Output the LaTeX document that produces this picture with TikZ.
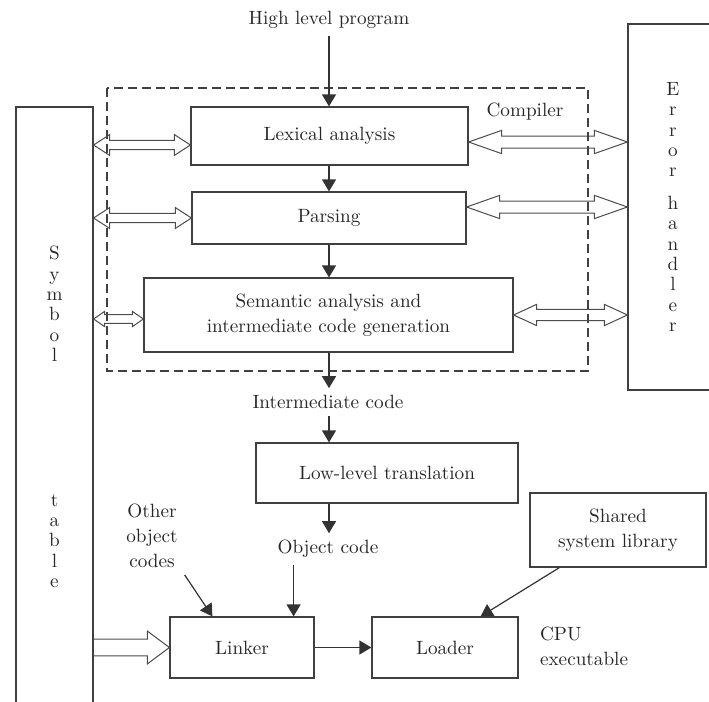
\documentclass[tikz,border=0pt]{standalone}
\usetikzlibrary{arrows.meta,calc}

% Grosse flèche creuse à deux pointes : x début, x fin, hauteur, demi-corps, demi-tête, longueur tête
\newcommand{\doublegrosse}[6]{%
  \draw[epaisse] let \p1=(#1), \p2=(#2), \p3=(#3) in
    (\x1,\y3) -- (\x1+#6,\y3+#5) -- (\x1+#6,\y3+#4) -- (\x2-#6,\y3+#4) -- (\x2-#6,\y3+#5)
    -- (\x2,\y3) -- (\x2-#6,\y3-#5) -- (\x2-#6,\y3-#4) -- (\x1+#6,\y3-#4) -- (\x1+#6,\y3-#5) -- cycle;}

% Grosse flèche creuse à une pointe : x début, arrivée, demi-corps, demi-tête, longueur tête
\newcommand{\simplegrosse}[5]{%
  \draw[epaisse] let \p1=(#1), \p2=(#2) in
    (\x1,\y2+#3) -- (\x2-#5,\y2+#3) -- (\x2-#5,\y2+#4) -- (\x2,\y2)
    -- (\x2-#5,\y2-#4) -- (\x2-#5,\y2-#3) -- (\x1,\y2-#3);}

\begin{document}
\begin{tikzpicture}[x=0.5pt, y=-0.5pt, font=\fontsize{9.6pt}{12.5pt}\selectfont, text=black!85]

  % Styles
  \tikzstyle{boite} = [draw=black!75, line width=0.6pt, inner sep=0pt, align=center]
  \tikzstyle{fleche} = [-{Triangle[length=6pt,width=7pt]}, draw=black!80, line width=0.6pt]
  \tikzstyle{epaisse} = [draw=black!70, line width=0.5pt, line join=miter]
  \tikzstyle{vertical} = [align=center, font=\fontsize{9.6pt}{10.2pt}\selectfont]

  % Cadre
  \useasboundingbox (0,0) rectangle (709,702);
  \clip (0,0) rectangle (709,702);

  % Table des symboles et gestionnaire d'erreurs
  \node[boite, vertical, minimum width=38.5pt, minimum height=310pt] (symb) at (54.5,417)
    {S\\y\\m\\b\\o\\l\\[62pt]t\\a\\b\\l\\e};
  \node[boite, vertical, minimum width=45pt, minimum height=183pt] (errh) at (673,207)
    {E\\r\\r\\o\\r\\[6pt]h\\a\\n\\d\\l\\e\\r};

  % Compilateur
  \draw[black!75, line width=0.6pt, dash pattern=on 4.5pt off 2.5pt] (107,88) rectangle (588,371);
  \node (comp) at (525,112) {Compiler};

  % Etapes
  \node (hlp) at (329,20) {High level program};
  \node[boite, minimum width=138.5pt, minimum height=29pt] (lex) at (329.5,136) {Lexical analysis};
  \node[boite, minimum width=137pt, minimum height=26pt] (pars) at (329,218) {Parsing};
  \node[boite, minimum width=184.5pt, minimum height=37pt] (sem) at (328.5,315)
    {Semantic analysis and\\intermediate code generation};
  \node (inter) at (328,402) {Intermediate code};
  \node[boite, minimum width=131pt, minimum height=30pt] (low) at (387,473) {Low-level translation};
  \node (obj) at (328,549) {Object code};
  \node[align=center] (other) at (152,536) {Other\\object\\codes};
  \node[boite, minimum width=72pt, minimum height=30.5pt] (linker) at (242,647.5) {Linker};
  \node[boite, minimum width=73pt, minimum height=30.5pt] (loader) at (445,647.5) {Loader};
  \node[boite, minimum width=88pt, minimum height=37pt] (shared) at (618,530) {Shared\\system library};
  \node[align=left, anchor=west] (cpu) at (533,646) {CPU\\executable};

  % Flèches simples
  \draw[fleche] (hlp.south) -- (hlp.south |- lex.north);
  \draw[fleche] (lex.south -| hlp) -- (hlp |- pars.north);
  \draw[fleche] (pars.south -| hlp) -- (hlp |- sem.north);
  \draw[fleche] (sem.south -| hlp) -- (hlp |- inter.north);
  \draw[fleche] (inter.south -| hlp) -- (hlp |- low.north);
  \draw[fleche] (low.south -| hlp) -- (hlp |- obj.north);

  \coordinate (lnk obj) at ([xshift=-10.5pt]linker.north east);
  \coordinate (lnk oth) at ([xshift=21.5pt]linker.north west);
  \coordinate (ldr in) at ([xshift=-19pt]loader.north east);
  \draw[fleche] (obj.south -| lnk obj) -- (lnk obj);
  \draw[fleche] (other.south east) -- (lnk oth);
  \draw[fleche] ([xshift=15pt]shared.south west) -- (ldr in);
  \draw[fleche] (linker) -- (loader);

  % Echanges avec la table des symboles
  \doublegrosse{symb.east}{lex.west}{[yshift=-4.5pt]lex.west}{2.3pt}{5.2pt}{8pt}
  \doublegrosse{symb.east}{pars.west}{pars.west}{2.3pt}{5.2pt}{8pt}
  \doublegrosse{symb.east}{sem.west}{[yshift=-2pt]sem.west}{2.2pt}{3.8pt}{5.5pt}
  \simplegrosse{symb.east}{linker.west}{4.2pt}{8.2pt}{11pt}

  % Echanges avec le gestionnaire d'erreurs
  \doublegrosse{lex.east}{errh.west}{[yshift=-3pt]lex.east}{3pt}{5.8pt}{16.5pt}
  \doublegrosse{pars.east}{errh.west}{[yshift=5.5pt]pars.east}{3pt}{5.8pt}{16.5pt}
  \doublegrosse{sem.east}{errh.west}{sem.east}{2.8pt}{5.3pt}{11.5pt}

\end{tikzpicture}
\end{document}
